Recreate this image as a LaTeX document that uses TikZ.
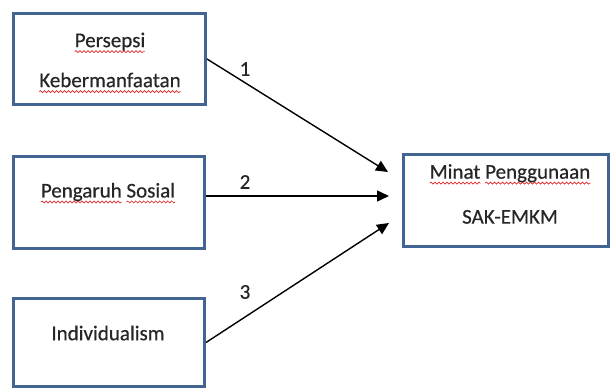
\documentclass[tikz,border=0pt]{standalone}
\usepackage{fontspec}
\setmainfont{Carlito}[BoldFont=Carlito, BoldFeatures={FakeBold=0.5}]
\usetikzlibrary{arrows.meta, decorations.pathmorphing}

\definecolor{boxblue}{RGB}{66,100,146}
\definecolor{spellred}{RGB}{225,40,40}
\newsavebox\spellbox
\newlength\spellwd
\newcommand\spellwave[1]{\sbox\spellbox{#1}\setlength\spellwd{\wd\spellbox}%
  \rlap{\tikz[baseline=0pt, overlay]\draw[spellred, line width=0.7pt, decorate,
    decoration={snake, amplitude=1pt, segment length=4pt}] (0pt,-4.5pt) -- (\spellwd,-4.5pt);}%
  \usebox\spellbox}

\tikzset{
  varbox/.style={draw=boxblue, line width=3pt, rectangle, inner sep=0pt},
  varlbl/.style={font=\fontsize{21}{40}\selectfont\bfseries, align=center, text=black!85},
  numlbl/.style={font=\fontsize{21}{24}\selectfont\bfseries, text=black!85},
  arr/.style={line width=1.4pt, -{Triangle[length=12pt, width=11pt]}}
}

\begin{document}
\begin{tikzpicture}[x=1pt, y=-1pt]
      \useasboundingbox (0,0) rectangle (611,390);
      % variable boxes
      \node[varbox, minimum width=192, minimum height=91] (persepsi) at (109.5,59) {};
      \node[varbox, minimum width=191, minimum height=92] (sosial) at (109,202.5) {};
      \node[varbox, minimum width=191, minimum height=88] (indiv) at (109,342.5) {};
      \node[varbox, minimum width=205, minimum height=92] (minat) at (506,200.5) {};
      \node[varlbl] (persepsiT) at (110,60) {\spellwave{Persepsi}\\\spellwave{Kebermanfaatan}};
      \node[varlbl] (sosialT) at (108,192) {\spellwave{Pengaruh} \spellwave{Sosial}};
      \node[varlbl] (indivT) at (108,333) {Individualism};
      \node[varlbl, font=\fontsize{21}{45}\selectfont\bfseries] (minatT) at (510,194) {\spellwave{Minat} \spellwave{Penggunaan}\\SAK-EMKM};
      % arrow ends
      \coordinate (t1) at (388,172);
      \coordinate (t2) at (389,196);
      \coordinate (t3) at (389,223);
      \draw[arr] (persepsi.east) -- (t1);
      \draw[arr] (sosial.east |- t2) -- (t2);
      \draw[arr] (indiv.east) -- (t3);
      \node[numlbl] (n1) at (245,69) {1};
      \node[numlbl] (n2) at (245,182) {2};
      \node[numlbl] (n3) at (245,292) {3};
\end{tikzpicture}
\end{document}
